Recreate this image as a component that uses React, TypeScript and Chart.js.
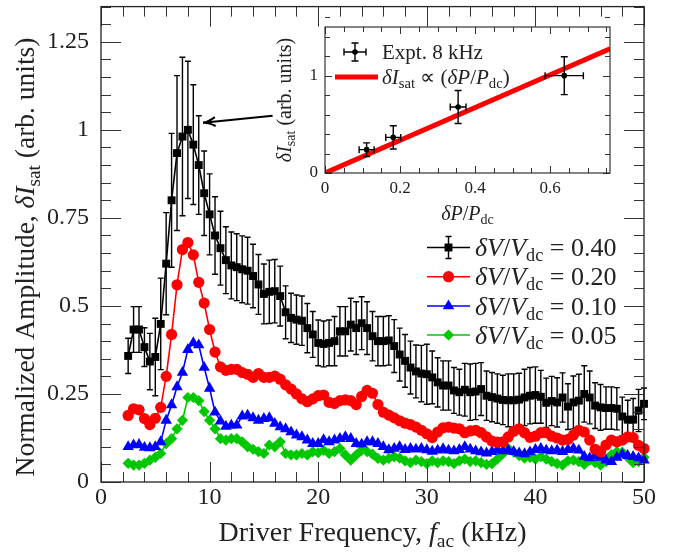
import React, { useEffect, useRef } from 'react';
import { Chart, registerables } from 'chart.js';

Chart.register(...registerables);

const SERIF = '"Liberation Serif", "Times New Roman", serif';

// ---------------- main chart data ----------------
const freq = [2.5,3,3.5,4,4.5,5,5.5,6,6.5,7,7.5,8,8.5,9,9.5,10,10.5,11,11.5,12,12.5,13,13.5,14,14.5,15,15.5,16,16.5,17,17.5,18,18.5,19,19.5,20,20.5,21,21.5,22,22.5,23,23.5,24,24.5,25,25.5,26,26.5,27,27.5,28,28.5,29,29.5,30,30.5,31,31.5,32,32.5,33,33.5,34,34.5,35,35.5,36,36.5,37,37.5,38,38.5,39,39.5,40,40.5,41,41.5,42,42.5,43,43.5,44,44.5,45,45.5,46,46.5,47,47.5,48,48.5,49,49.5,50];

const amp040 = [0.358,0.433,0.433,0.383,0.342,0.355,0.449,0.62,0.80,0.934,
  0.981,1.0,0.958,0.90,0.82,0.76,0.70,0.664,0.63,0.615,
  0.61,0.604,0.60,0.585,0.561,0.534,0.54,0.542,0.528,0.482,
  0.466,0.461,0.458,0.437,0.419,0.395,0.392,0.395,0.40,0.428,
  0.428,0.447,0.437,0.451,0.437,0.414,0.40,0.40,0.402,0.386,
  0.362,0.344,0.325,0.314,0.308,0.306,0.297,0.283,0.274,0.274,
  0.26,0.255,0.262,0.255,0.257,0.264,0.245,0.241,0.237,0.233,
  0.232,0.232,0.234,0.24,0.245,0.247,0.242,0.225,0.23,0.226,
  0.24,0.214,0.226,0.231,0.25,0.24,0.217,0.212,0.21,0.21,
  0.208,0.186,0.177,0.177,0.203,0.222];

const err040 = [0.05,0.065,0.065,0.055,0.08,0.11,0.13,0.145,0.19,0.22,
  0.225,0.195,0.17,0.14,0.12,0.115,0.11,0.105,0.095,0.095,
  0.095,0.095,0.095,0.09,0.085,0.085,0.09,0.09,0.085,0.075,
  0.07,0.07,0.07,0.07,0.065,0.065,0.065,0.065,0.07,0.07,
  0.07,0.075,0.075,0.075,0.075,0.07,0.07,0.07,0.07,0.075,
  0.075,0.075,0.075,0.075,0.08,0.085,0.075,0.07,0.07,0.07,
  0.065,0.065,0.075,0.08,0.08,0.075,0.07,0.07,0.07,0.07,
  0.075,0.075,0.075,0.08,0.08,0.08,0.075,0.07,0.07,0.07,
  0.07,0.065,0.075,0.075,0.08,0.075,0.065,0.065,0.06,0.06,
  0.06,0.055,0.055,0.06,0.06,0.045];

const amp020 = [0.189,0.208,0.205,0.18,0.163,0.181,0.212,0.30,0.419,0.56,
  0.66,0.68,0.645,0.567,0.508,0.433,0.369,0.327,0.317,0.32,
  0.32,0.311,0.306,0.297,0.308,0.297,0.297,0.301,0.292,0.276,
  0.264,0.25,0.236,0.228,0.236,0.245,0.247,0.226,0.223,0.231,
  0.233,0.231,0.22,0.243,0.26,0.252,0.22,0.198,0.19,0.182,
  0.174,0.167,0.163,0.156,0.147,0.137,0.126,0.142,0.154,0.156,
  0.153,0.151,0.14,0.145,0.147,0.14,0.128,0.116,0.113,0.114,
  0.128,0.144,0.151,0.14,0.127,0.13,0.14,0.14,0.13,0.125,
  0.119,0.121,0.133,0.147,0.142,0.119,0.093,0.086,0.105,0.119,
  0.114,0.119,0.128,0.126,0.104,0.095];

const amp010 = [0.10,0.105,0.106,0.098,0.097,0.10,0.114,0.175,0.219,0.27,
  0.311,0.376,0.395,0.389,0.325,0.266,0.198,0.173,0.158,0.161,
  0.161,0.187,0.189,0.182,0.175,0.18,0.182,0.166,0.156,0.151,
  0.142,0.133,0.128,0.119,0.109,0.109,0.12,0.114,0.119,0.123,
  0.128,0.123,0.109,0.107,0.114,0.114,0.109,0.10,0.091,0.095,
  0.10,0.092,0.095,0.093,0.095,0.091,0.087,0.09,0.094,0.09,
  0.088,0.092,0.1,0.093,0.088,0.085,0.082,0.086,0.092,0.088,
  0.09,0.086,0.082,0.08,0.085,0.092,0.095,0.09,0.088,0.09,
  0.086,0.092,0.095,0.09,0.072,0.068,0.075,0.07,0.062,0.058,
  0.07,0.078,0.075,0.072,0.068,0.062];

const amp005 = [0.053,0.048,0.048,0.053,0.062,0.07,0.081,0.109,0.123,0.151,
  0.175,0.24,0.24,0.231,0.20,0.175,0.151,0.123,0.119,0.123,
  0.123,0.114,0.10,0.093,0.086,0.081,0.105,0.10,0.114,0.081,
  0.077,0.077,0.081,0.077,0.086,0.083,0.09,0.081,0.086,0.095,
  0.077,0.062,0.077,0.09,0.086,0.079,0.067,0.062,0.067,0.072,
  0.068,0.06,0.055,0.062,0.058,0.052,0.06,0.055,0.06,0.058,
  0.052,0.06,0.065,0.058,0.06,0.055,0.05,0.052,0.065,0.08,
  0.095,0.085,0.075,0.068,0.07,0.065,0.072,0.065,0.058,0.052,
  0.048,0.06,0.062,0.058,0.05,0.062,0.055,0.048,0.058,0.078,
  0.086,0.085,0.07,0.055,0.058,0.07];

const seriesLabels = ['0.40', '0.20', '0.10', '0.05'];
const seriesColors = ['#000000', '#ff0000', '#0000ff', '#00c800'];
const seriesMarkers = ['rect', 'circle', 'triangle', 'rectRot'];
const seriesRadius = [5.6, 5.6, 6.6, 5.6];

const mainXTicks = { min: 0, max: 50, step: 10, minor: 2 };
const mainYTicks = { min: 0, max: 1.35, step: 0.25, minor: 0.05 };

// arrow annotation (data coordinates)
const arrowTail = { x: 15.8, y: 1.04 };
const arrowTip = { x: 9.4, y: 1.02 };

// ---------------- inset data ----------------
const insetPower = [0.111, 0.182, 0.355, 0.638];
const insetAmp = [0.24, 0.366, 0.678, 1.0];
const insetPowerErr = [0.02, 0.02, 0.021, 0.051];
const insetAmpErr = [0.07, 0.12, 0.17, 0.195];
const fitPower = [0, 0.76];
const fitAmp = [0, 1.277];

const insetXTicks = { min: 0, max: 0.76, step: 0.2, minor: 0.05 };
const insetYTicks = { min: 0, max: 1.5, step: 1, minor: 0.2 };

// ---------------- helpers ----------------
type Seg = { t: string; it?: boolean; sub?: boolean };

function segFont(s: Seg, size: number) {
  const sz = s.sub ? size * 0.7 : size;
  return `${s.it ? 'italic ' : ''}${sz}px ${SERIF}`;
}
function richWidth(ctx: CanvasRenderingContext2D, segs: Seg[], size: number) {
  let w = 0;
  for (const s of segs) {
    ctx.font = segFont(s, size);
    w += ctx.measureText(s.t).width;
  }
  return w;
}
function drawRich(ctx: CanvasRenderingContext2D, segs: Seg[], x: number, y: number, size: number, align: 'left' | 'center') {
  const w = richWidth(ctx, segs, size);
  let cx = align === 'center' ? x - w / 2 : x;
  ctx.textAlign = 'left';
  ctx.textBaseline = 'alphabetic';
  for (const s of segs) {
    ctx.font = segFont(s, size);
    ctx.fillText(s.t, cx, y + (s.sub ? size * 0.2 : 0));
    cx += ctx.measureText(s.t).width;
  }
}
function drawMarker(ctx: CanvasRenderingContext2D, style: string, x: number, y: number, r: number) {
  ctx.beginPath();
  if (style === 'rect') {
    const h = r * Math.SQRT1_2;
    ctx.rect(x - h, y - h, 2 * h, 2 * h);
  } else if (style === 'circle') {
    ctx.arc(x, y, r, 0, Math.PI * 2);
  } else if (style === 'triangle') {
    ctx.moveTo(x, y - r);
    ctx.lineTo(x + 0.866 * r, y + 0.5 * r);
    ctx.lineTo(x - 0.866 * r, y + 0.5 * r);
    ctx.closePath();
  } else {
    ctx.moveTo(x - r, y);
    ctx.lineTo(x, y - r);
    ctx.lineTo(x + r, y);
    ctx.lineTo(x, y + r);
    ctx.closePath();
  }
  ctx.fill();
}
function drawFrameAndTicks(chart: any, xt: any, yt: any, majLen: number, minLen: number, frameW: number) {
  const ctx = chart.ctx as CanvasRenderingContext2D;
  const { left, right, top, bottom } = chart.chartArea;
  const xs = chart.scales.x;
  const ys = chart.scales.y;
  ctx.save();
  ctx.strokeStyle = '#333';
  ctx.lineWidth = 1;
  const nx = Math.round((xt.max - xt.min) / xt.minor + 1e-6);
  for (let i = 0; i <= nx; i++) {
    const v = xt.min + i * xt.minor;
    const r = v / xt.step;
    const major = Math.abs(r - Math.round(r)) < 1e-6;
    const L = major ? majLen : minLen;
    const px = Math.round(xs.getPixelForValue(v)) + 0.5;
    ctx.beginPath();
    ctx.moveTo(px, bottom); ctx.lineTo(px, bottom - L);
    ctx.moveTo(px, top); ctx.lineTo(px, top + L);
    ctx.stroke();
  }
  const ny = Math.round((yt.max - yt.min) / yt.minor + 1e-6);
  for (let i = 0; i <= ny; i++) {
    const v = yt.min + i * yt.minor;
    const r = v / yt.step;
    const major = Math.abs(r - Math.round(r)) < 1e-6;
    const L = major ? majLen : minLen;
    const py = Math.round(ys.getPixelForValue(v)) + 0.5;
    ctx.beginPath();
    ctx.moveTo(left, py); ctx.lineTo(left + L, py);
    ctx.moveTo(right, py); ctx.lineTo(right - L, py);
    ctx.stroke();
  }
  ctx.strokeStyle = '#222';
  ctx.lineWidth = frameW;
  ctx.strokeRect(left, top, right - left, bottom - top);
  ctx.restore();
}

const mainDecor = {
  id: 'mainDecor',
  beforeDatasetsDraw(chart: any) {
    const ctx = chart.ctx as CanvasRenderingContext2D;
    const xs = chart.scales.x;
    const ys = chart.scales.y;
    ctx.save();
    ctx.strokeStyle = '#000';
    ctx.lineWidth = 1.4;
    freq.forEach((f, i) => {
      const x = xs.getPixelForValue(f);
      const yt = ys.getPixelForValue(amp040[i] + err040[i]);
      const yb = ys.getPixelForValue(amp040[i] - err040[i]);
      ctx.beginPath();
      ctx.moveTo(x, yt); ctx.lineTo(x, yb);
      ctx.moveTo(x - 3, yt); ctx.lineTo(x + 3, yt);
      ctx.moveTo(x - 3, yb); ctx.lineTo(x + 3, yb);
      ctx.stroke();
    });
    ctx.restore();
  },
  afterDraw(chart: any) {
    const ctx = chart.ctx as CanvasRenderingContext2D;
    const { left, right } = chart.chartArea;
    const xs = chart.scales.x;
    const ys = chart.scales.y;
    drawFrameAndTicks(chart, mainXTicks, mainYTicks, 20, 10, 1.3);

    ctx.save();
    ctx.fillStyle = '#222';
    // y title
    ctx.save();
    ctx.translate(34, 257);
    ctx.rotate(-Math.PI / 2);
    drawRich(ctx, [{ t: 'Normalized Amplitude, ' }, { t: 'δI', it: true }, { t: 'sat', sub: true }, { t: ' (arb. units)' }], 0, 0, 27.5, 'center');
    ctx.restore();
    // x title
    drawRich(ctx, [{ t: 'Driver Frequency, ' }, { t: 'f', it: true }, { t: 'ac', sub: true }, { t: ' (kHz)' }], (left + right) / 2, 541, 28, 'center');

    // legend
    const rows = [247.5, 276.7, 306, 335];
    seriesLabels.forEach((lab, k) => {
      const y = rows[k];
      const c = seriesColors[k];
      ctx.strokeStyle = c;
      ctx.fillStyle = c;
      ctx.lineWidth = 1.6;
      ctx.beginPath();
      ctx.moveTo(427, y); ctx.lineTo(470, y);
      ctx.stroke();
      if (k === 0) {
        ctx.lineWidth = 1.4;
        ctx.beginPath();
        ctx.moveTo(448.5, y - 11); ctx.lineTo(448.5, y + 11);
        ctx.moveTo(445.5, y - 11); ctx.lineTo(451.5, y - 11);
        ctx.moveTo(445.5, y + 11); ctx.lineTo(451.5, y + 11);
        ctx.stroke();
      }
      drawMarker(ctx, seriesMarkers[k], 448.5, y, seriesRadius[k]);
      ctx.fillStyle = '#222';
      drawRich(ctx, [{ t: 'δV', it: true }, { t: '/' }, { t: 'V', it: true }, { t: 'dc', sub: true }, { t: ' = ' + lab }], 475, y + 8.5, 26, 'left');
    });

    // arrow
    const tx = xs.getPixelForValue(arrowTip.x), ty = ys.getPixelForValue(arrowTip.y);
    const sx = xs.getPixelForValue(arrowTail.x), sy = ys.getPixelForValue(arrowTail.y);
    const ang = Math.atan2(ty - sy, tx - sx);
    ctx.strokeStyle = '#000';
    ctx.lineWidth = 2;
    ctx.beginPath();
    ctx.moveTo(sx, sy); ctx.lineTo(tx, ty);
    ctx.stroke();
    ctx.beginPath();
    ctx.moveTo(tx - 13 * Math.cos(ang - 0.35), ty - 13 * Math.sin(ang - 0.35));
    ctx.quadraticCurveTo(tx - 5 * Math.cos(ang), ty - 5 * Math.sin(ang), tx, ty);
    ctx.quadraticCurveTo(tx - 5 * Math.cos(ang), ty - 5 * Math.sin(ang), tx - 13 * Math.cos(ang + 0.35), ty - 13 * Math.sin(ang + 0.35));
    ctx.stroke();
    ctx.restore();
  },
};

const insetDecor = {
  id: 'insetDecor',
  beforeDatasetsDraw(chart: any) {
    const ctx = chart.ctx as CanvasRenderingContext2D;
    const { left, right, top, bottom } = chart.chartArea;
    ctx.save();
    ctx.fillStyle = '#fff';
    ctx.fillRect(left, top, right - left, bottom - top);
    ctx.restore();
  },
  afterDatasetsDraw(chart: any) {
    const ctx = chart.ctx as CanvasRenderingContext2D;
    const xs = chart.scales.x;
    const ys = chart.scales.y;
    ctx.save();
    ctx.strokeStyle = '#000';
    ctx.fillStyle = '#000';
    ctx.lineWidth = 1.4;
    insetPower.forEach((p, i) => {
      const x = xs.getPixelForValue(p);
      const y = ys.getPixelForValue(insetAmp[i]);
      const x1 = xs.getPixelForValue(p - insetPowerErr[i]);
      const x2 = xs.getPixelForValue(p + insetPowerErr[i]);
      const y1 = ys.getPixelForValue(insetAmp[i] + insetAmpErr[i]);
      const y2 = ys.getPixelForValue(insetAmp[i] - insetAmpErr[i]);
      ctx.beginPath();
      ctx.moveTo(x1, y); ctx.lineTo(x2, y);
      ctx.moveTo(x1, y - 3.5); ctx.lineTo(x1, y + 3.5);
      ctx.moveTo(x2, y - 3.5); ctx.lineTo(x2, y + 3.5);
      ctx.moveTo(x, y1); ctx.lineTo(x, y2);
      ctx.moveTo(x - 3.5, y1); ctx.lineTo(x + 3.5, y1);
      ctx.moveTo(x - 3.5, y2); ctx.lineTo(x + 3.5, y2);
      ctx.stroke();
      ctx.beginPath();
      ctx.arc(x, y, 2.8, 0, Math.PI * 2);
      ctx.fill();
    });
    ctx.restore();
  },
  afterDraw(chart: any) {
    const ctx = chart.ctx as CanvasRenderingContext2D;
    const { left, right, top, bottom } = chart.chartArea;
    drawFrameAndTicks(chart, insetXTicks, insetYTicks, 7, 5, 1.1);
    ctx.save();
    ctx.fillStyle = '#222';
    // y title
    ctx.save();
    ctx.translate(36, (top + bottom) / 2);
    ctx.rotate(-Math.PI / 2);
    drawRich(ctx, [{ t: 'δI', it: true }, { t: 'sat', sub: true }, { t: ' (arb. units)' }], 0, 0, 20, 'center');
    ctx.restore();
    // x title
    drawRich(ctx, [{ t: 'δP', it: true }, { t: '/' }, { t: 'P', it: true }, { t: 'dc', sub: true }], (left + right) / 2, 205, 20, 'center');

    // legend
    const lx = left + 30;
    const r1 = top + 25;
    const r2 = top + 50;
    ctx.strokeStyle = '#000';
    ctx.fillStyle = '#000';
    ctx.lineWidth = 1.4;
    ctx.beginPath();
    ctx.moveTo(lx - 11, r1); ctx.lineTo(lx + 11, r1);
    ctx.moveTo(lx - 11, r1 - 3.5); ctx.lineTo(lx - 11, r1 + 3.5);
    ctx.moveTo(lx + 11, r1 - 3.5); ctx.lineTo(lx + 11, r1 + 3.5);
    ctx.moveTo(lx, r1 - 9); ctx.lineTo(lx, r1 + 9);
    ctx.moveTo(lx - 3.5, r1 - 9); ctx.lineTo(lx + 3.5, r1 - 9);
    ctx.moveTo(lx - 3.5, r1 + 9); ctx.lineTo(lx + 3.5, r1 + 9);
    ctx.stroke();
    ctx.beginPath();
    ctx.arc(lx, r1, 2.8, 0, Math.PI * 2);
    ctx.fill();
    ctx.strokeStyle = '#ff0000';
    ctx.lineWidth = 5;
    ctx.beginPath();
    ctx.moveTo(left + 10, r2); ctx.lineTo(left + 53, r2);
    ctx.stroke();
    ctx.fillStyle = '#222';
    drawRich(ctx, [{ t: 'Expt. 8 kHz' }], left + 57, r1 + 6.5, 21, 'left');
    drawRich(ctx, [{ t: 'δI', it: true }, { t: 'sat', sub: true }, { t: ' ∝ (' }, { t: 'δP', it: true }, { t: '/' }, { t: 'P', it: true }, { t: 'dc', sub: true }, { t: ')' }], left + 57, r2 + 6.5, 21, 'left');
    ctx.restore();
  },
};

export default function App() {
  const mainRef = useRef<HTMLCanvasElement>(null);
  const insetRef = useRef<HTMLCanvasElement>(null);

  useEffect(() => {
    const seriesData = [amp040, amp020, amp010, amp005];
    const mainChart = new Chart(mainRef.current as HTMLCanvasElement, {
      type: 'scatter',
      data: {
        datasets: seriesData.map((arr, k) => ({
          label: 'δV/Vdc = ' + seriesLabels[k],
          data: freq.map((f, i) => ({ x: f, y: arr[i] })),
          showLine: true,
          borderColor: seriesColors[k],
          backgroundColor: seriesColors[k],
          borderWidth: 1.6,
          pointStyle: seriesMarkers[k] as any,
          pointRadius: seriesRadius[k],
          pointBorderWidth: 0,
          pointBackgroundColor: seriesColors[k],
          pointBorderColor: seriesColors[k],
          tension: 0,
          clip: false as any,
          order: k === 0 ? 4 : k,
        })),
      },
      options: {
        responsive: false,
        animation: false,
        devicePixelRatio: 1,
        layout: { padding: { left: 0, top: 3, right: 31, bottom: 0 } },
        plugins: { legend: { display: false }, tooltip: { enabled: false } },
        scales: {
          x: {
            type: 'linear', min: mainXTicks.min, max: mainXTicks.max,
            ticks: { stepSize: mainXTicks.step, includeBounds: false, font: { family: SERIF, size: 24 }, color: '#222', padding: 1, maxRotation: 0, autoSkip: false },
            grid: { display: false, drawTicks: false },
            border: { display: false },
            afterFit: (s: any) => { s.height = 74; s.paddingLeft = 0; s.paddingRight = 0; },
          },
          y: {
            type: 'linear', min: mainYTicks.min, max: mainYTicks.max,
            ticks: { stepSize: mainYTicks.step, includeBounds: false, font: { family: SERIF, size: 24 }, color: '#222', padding: 12, callback: (v: any) => String(Number(Number(v).toFixed(2))) },
            grid: { display: false, drawTicks: false },
            border: { display: false },
            afterFit: (s: any) => { s.width = 101; s.paddingTop = 0; s.paddingBottom = 0; },
          },
        },
      },
      plugins: [mainDecor],
    } as any);

    const insetChart = new Chart(insetRef.current as HTMLCanvasElement, {
      type: 'scatter',
      data: {
        datasets: [
          {
            label: 'fit',
            data: fitPower.map((p, i) => ({ x: p, y: fitAmp[i] })),
            showLine: true,
            borderColor: '#ff0000',
            borderWidth: 5,
            pointRadius: 0,
          },
        ],
      },
      options: {
        responsive: false,
        animation: false,
        devicePixelRatio: 1,
        layout: { padding: { left: 0, top: 12, right: 20, bottom: 0 } },
        plugins: { legend: { display: false }, tooltip: { enabled: false } },
        scales: {
          x: {
            type: 'linear', min: insetXTicks.min, max: insetXTicks.max,
            ticks: { stepSize: insetXTicks.step, includeBounds: false, font: { family: SERIF, size: 17 }, color: '#222', padding: 5, maxRotation: 0, autoSkip: false, callback: (v: any) => String(Number(Number(v).toFixed(2))) },
            grid: { display: false, drawTicks: false },
            border: { display: false },
            afterFit: (s: any) => { s.height = 62; s.paddingLeft = 0; s.paddingRight = 0; },
          },
          y: {
            type: 'linear', min: insetYTicks.min, max: insetYTicks.max,
            ticks: { stepSize: insetYTicks.step, includeBounds: false, font: { family: SERIF, size: 17 }, color: '#222', padding: 7, callback: (v: any) => String(Number(Number(v).toFixed(2))) },
            grid: { display: false, drawTicks: false },
            border: { display: false },
            afterFit: (s: any) => { s.width = 70; s.paddingTop = 0; s.paddingBottom = 0; },
          },
        },
      },
      plugins: [insetDecor],
    } as any);

    return () => {
      mainChart.destroy();
      insetChart.destroy();
    };
  }, []);

  return (
    <div style={{ position: 'fixed', left: 0, top: 0, width: 675, height: 556, background: '#fff' }}>
      <canvas ref={mainRef} width={675} height={556} style={{ position: 'absolute', left: 0, top: 0 }} />
      <canvas ref={insetRef} width={375} height={220} style={{ position: 'absolute', left: 255, top: 15 }} />
    </div>
  );
}
